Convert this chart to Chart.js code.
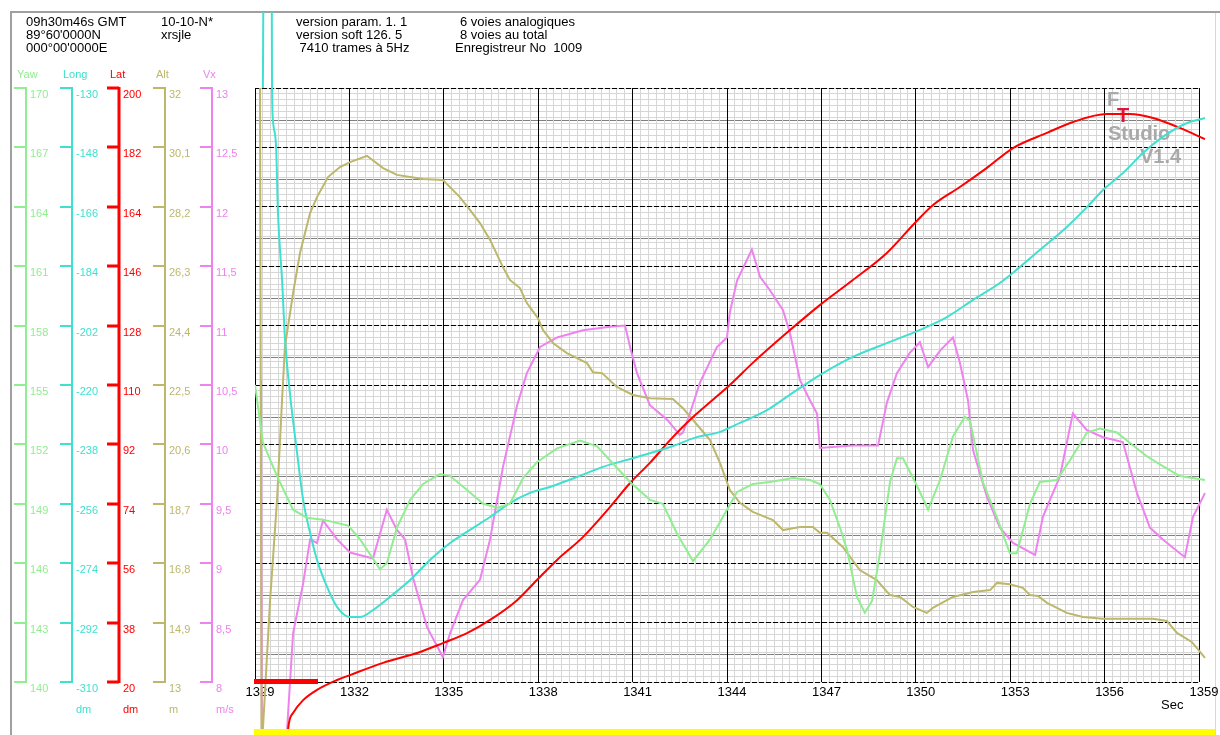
<!DOCTYPE html>
<html>
<head>
<meta charset="utf-8">
<script src="https://cdn.jsdelivr.net/npm/chart.js@4.4.1/dist/chart.umd.min.js"></script>
<style>
  body { margin: 0; background: #fff; }
  canvas { display: block; }
</style>
</head>
<body>
<canvas id="recChart" width="1220" height="735"></canvas>
<script>
// time axis (seconds)
const xLabels = [1329, 1332, 1335, 1338, 1341, 1344, 1347, 1350, 1353, 1356, 1359];

// Yaw (green)
const yawT = [1329.0, 1329.25, 1329.7, 1330.21, 1330.65, 1331.16, 1331.96, 1332.34, 1332.72, 1332.97, 1333.19, 1333.51, 1333.93, 1334.34, 1334.88, 1335.2, 1335.74, 1336.25, 1336.72, 1337.1, 1337.52, 1337.96, 1338.6, 1339.33, 1339.87, 1340.28, 1340.92, 1341.55, 1341.96, 1342.41, 1342.92, 1343.46, 1344.0, 1344.32, 1344.82, 1345.36, 1346.1, 1346.64, 1346.95, 1347.27, 1347.59, 1347.81, 1348.13, 1348.38, 1348.61, 1348.86, 1349.18, 1349.4, 1349.59, 1350.04, 1350.39, 1350.77, 1351.18, 1351.56, 1351.72, 1352.13, 1352.58, 1352.99, 1353.21, 1353.63, 1353.94, 1354.48, 1354.9, 1355.44, 1355.85, 1356.39, 1356.71, 1357.34, 1357.85, 1358.39, 1359.19];
const yawV = [155.0, 152.1, 150.4, 148.7, 148.3, 148.2, 147.9, 147.2, 146.3, 145.7, 146.0, 147.8, 149.2, 150.0, 150.5, 150.4, 149.7, 149.0, 148.8, 149.0, 150.3, 151.1, 151.8, 152.2, 151.9, 151.2, 150.1, 149.2, 149.0, 147.5, 146.1, 147.2, 148.7, 149.6, 150.0, 150.1, 150.3, 150.2, 150.0, 149.2, 147.8, 146.7, 144.3, 143.5, 144.1, 146.5, 150.1, 151.3, 151.3, 149.9, 148.7, 150.2, 152.4, 153.4, 153.2, 150.1, 148.3, 146.5, 146.5, 149.0, 150.1, 150.2, 151.2, 152.6, 152.8, 152.6, 152.2, 151.4, 150.9, 150.4, 150.2];

// Long (turquoise, dm)
const longT = [1329.25, 1329.3, 1329.52, 1329.54, 1329.57, 1329.67, 1329.73, 1329.86, 1329.95, 1330.11, 1330.33, 1330.53, 1330.75, 1330.97, 1331.29, 1331.61, 1332.02, 1332.34, 1332.75, 1333.29, 1333.93, 1334.56, 1335.2, 1335.83, 1336.47, 1337.1, 1337.74, 1338.37, 1339.23, 1340.06, 1341.14, 1342.19, 1343.04, 1343.78, 1344.41, 1345.27, 1345.9, 1346.95, 1348.0, 1349.08, 1350.13, 1350.99, 1351.82, 1352.67, 1353.31, 1353.94, 1354.8, 1355.44, 1355.95, 1356.58, 1357.22, 1357.85, 1358.62, 1359.19];
const longV = [-130, -58, -58, -127.6, -139.7, -147.9, -167.9, -188.2, -205.5, -222.5, -240.0, -254.8, -264.8, -273.0, -281.2, -287.3, -290.3, -290.3, -288.2, -284.2, -279.1, -273.0, -267.9, -263.9, -260.0, -255.8, -252.7, -250.9, -247.9, -244.8, -241.8, -238.8, -235.8, -234.2, -231.5, -227.6, -223.6, -217.0, -211.5, -207.3, -203.3, -199.4, -194.2, -189.1, -184.2, -179.1, -172.1, -166.1, -160.9, -155.8, -149.7, -144.8, -140.6, -139.1];

// Lat (red, dm)
const latT = [1330.0, 1330.05, 1330.21, 1330.53, 1330.97, 1331.61, 1332.02, 1333.07, 1334.15, 1334.97, 1335.74, 1336.47, 1337.33, 1337.96, 1338.6, 1339.42, 1340.28, 1340.92, 1341.55, 1342.19, 1342.82, 1343.55, 1344.09, 1344.82, 1345.9, 1346.95, 1348.0, 1349.08, 1349.97, 1350.54, 1351.4, 1352.26, 1353.09, 1354.17, 1355.0, 1356.07, 1356.8, 1357.54, 1358.39, 1359.19];
const latV = [-5, 5.5, 10.6, 14.5, 17.6, 20.6, 22.1, 25.8, 28.8, 31.8, 34.8, 38.8, 44.8, 50.9, 57.0, 63.9, 73.0, 80.3, 86.4, 93.3, 99.4, 105.5, 110.0, 116.7, 125.8, 134.2, 141.8, 150.0, 159.1, 164.5, 170.0, 175.8, 181.8, 186.4, 189.7, 192.1, 192.1, 190.9, 187.9, 184.5];

// Alt (khaki, m)
const altT = [1329.16, 1329.21, 1329.25, 1329.48, 1329.7, 1329.86, 1329.95, 1330.21, 1330.43, 1330.75, 1330.97, 1331.32, 1331.7, 1332.02, 1332.56, 1332.65, 1333.07, 1333.51, 1333.93, 1334.34, 1334.97, 1335.51, 1335.83, 1336.15, 1336.47, 1336.88, 1337.1, 1337.42, 1337.64, 1337.99, 1338.15, 1338.47, 1338.91, 1339.55, 1339.74, 1340.03, 1340.5, 1341.01, 1341.55, 1342.28, 1342.6, 1342.92, 1343.46, 1343.78, 1344.09, 1344.41, 1344.82, 1345.46, 1345.78, 1346.32, 1346.73, 1346.95, 1347.18, 1347.68, 1348.22, 1348.76, 1349.18, 1349.5, 1349.91, 1350.35, 1350.54, 1351.18, 1351.82, 1352.36, 1352.58, 1352.99, 1353.4, 1353.63, 1353.88, 1354.17, 1354.8, 1355.31, 1355.95, 1357.54, 1357.98, 1358.3, 1358.77, 1359.19];
const altV = [32.0, 10.5, 11.46, 15.62, 18.82, 22.02, 23.72, 25.44, 26.72, 28.0, 28.51, 29.15, 29.47, 29.63, 29.83, 29.76, 29.44, 29.22, 29.15, 29.09, 29.06, 28.51, 28.1, 27.68, 27.14, 26.27, 25.86, 25.6, 25.12, 24.64, 24.26, 23.84, 23.52, 23.2, 22.91, 22.88, 22.44, 22.18, 22.08, 22.05, 21.76, 21.38, 20.74, 20.0, 19.14, 18.73, 18.44, 18.18, 17.86, 17.96, 17.96, 17.77, 17.77, 17.32, 16.58, 16.26, 15.78, 15.72, 15.4, 15.21, 15.37, 15.72, 15.88, 15.94, 16.17, 16.13, 16.01, 15.78, 15.75, 15.53, 15.21, 15.08, 15.02, 15.02, 14.95, 14.57, 14.28, 13.77];

// Vx (violet, m/s)
const vxT = [1329.19, 1329.22, 1329.98, 1330.02, 1330.21, 1330.53, 1330.75, 1330.97, 1331.16, 1331.61, 1332.02, 1332.75, 1333.19, 1333.51, 1333.77, 1334.02, 1334.47, 1334.97, 1335.2, 1335.61, 1336.15, 1336.47, 1336.88, 1337.33, 1337.64, 1338.06, 1338.6, 1339.42, 1340.28, 1340.76, 1340.92, 1341.14, 1341.55, 1342.09, 1342.5, 1342.6, 1342.82, 1343.14, 1343.68, 1344.0, 1344.09, 1344.32, 1344.79, 1345.05, 1345.36, 1345.78, 1346.0, 1346.32, 1346.64, 1346.86, 1346.95, 1348.0, 1348.8, 1349.08, 1349.4, 1349.81, 1350.13, 1350.39, 1350.77, 1351.18, 1351.4, 1351.66, 1351.82, 1352.26, 1352.67, 1353.09, 1353.79, 1354.04, 1354.26, 1354.58, 1354.99, 1355.44, 1355.95, 1356.58, 1357.03, 1357.44, 1357.85, 1358.55, 1358.81, 1359.19];
const vxV = [10.54, 7.34, 7.34, 7.6, 8.41, 8.83, 9.2, 9.17, 9.36, 9.2, 9.09, 9.04, 9.45, 9.28, 9.2, 8.88, 8.46, 8.21, 8.41, 8.69, 8.86, 9.2, 9.81, 10.33, 10.6, 10.82, 10.9, 10.96, 10.99, 11.0, 10.82, 10.6, 10.33, 10.21, 10.08, 10.1, 10.26, 10.52, 10.82, 10.9, 11.11, 11.38, 11.64, 11.41, 11.3, 11.13, 10.94, 10.54, 10.37, 10.26, 9.97, 9.99, 9.99, 10.35, 10.6, 10.77, 10.86, 10.65, 10.79, 10.9, 10.69, 10.37, 9.95, 9.56, 9.3, 9.17, 9.07, 9.39, 9.53, 9.73, 10.26, 10.12, 10.06, 10.02, 9.59, 9.3, 9.2, 9.05, 9.39, 9.59];

// tick labels of the five left scales, top to bottom
const yawTicks = [170, 167, 164, 161, 158, 155, 152, 149, 146, 143, 140];
const longTicks = [-130, -148, -166, -184, -202, -220, -238, -256, -274, -292, -310];
const latTicks = [200, 182, 164, 146, 128, 110, 92, 74, 56, 38, 20];
const altTicks = [32, 30.1, 28.2, 26.3, 24.4, 22.5, 20.6, 18.7, 16.8, 14.9, 13];
const vxTicks = [13, 12.5, 12, 11.5, 11, 10.5, 10, 9.5, 9, 8.5, 8];

const headerLines = [
  ['09h30m46s GMT', 26, 22], ['89°60\'0000N', 26, 35], ['000°00\'0000E', 26, 48],
  ['10-10-N*', 161, 22], ['xrsjle', 161, 35],
  ['version param. 1. 1', 296, 22], ['version soft 126. 5', 296, 35], [' 7410 trames à 5Hz', 296, 48],
  ['6 voies analogiques', 460, 22], ['8 voies au total', 460, 35], ['Enregistreur No  1009', 455, 48]
];

const axisDefs = [
  { id: 'yYaw', name: 'Yaw', unit: '', color: '#90ee90', ticks: yawTicks, x: 26, w: 2 },
  { id: 'yLong', name: 'Long', unit: 'dm', color: '#40e0d0', ticks: longTicks, x: 72, w: 2 },
  { id: 'yLat', name: 'Lat', unit: 'dm', color: '#ff0000', ticks: latTicks, x: 119, w: 3 },
  { id: 'yAlt', name: 'Alt', unit: 'm', color: '#bdb76b', ticks: altTicks, x: 165, w: 2 },
  { id: 'yVx', name: 'Vx', unit: 'm/s', color: '#ee82ee', ticks: vxTicks, x: 212, w: 2 }
];

const FONT = "'Liberation Sans', Arial, sans-serif";
const fmt = (v) => String(v).replace('.', ',');
const zip = (t, v) => t.map((x, i) => ({ x: x, y: v[i] }));

// everything the recorder prints around the plot
const recorderDecor = {
  id: 'recorderDecor',
  beforeDraw(chart) {
    const ctx = chart.ctx;
    ctx.save();
    ctx.fillStyle = '#fff';
    ctx.fillRect(0, 0, chart.width, chart.height);
    ctx.strokeStyle = '#a0a0a0';
    ctx.lineWidth = 2;
    ctx.beginPath();
    ctx.moveTo(11, 735);
    ctx.lineTo(11, 12);
    ctx.lineTo(1220, 12);
    ctx.stroke();
    ctx.strokeStyle = '#d8d8d8';
    ctx.lineWidth = 1;
    ctx.beginPath();
    ctx.moveTo(1215.5, 13);
    ctx.lineTo(1215.5, 735);
    ctx.stroke();

    ctx.fillStyle = '#000';
    ctx.font = '13px ' + FONT;
    ctx.textBaseline = 'middle';
    headerLines.forEach(([txt, x, y]) => ctx.fillText(txt, x, y));
    ctx.restore();
  },
  beforeDatasetsDraw(chart) {
    // watermark
    const ctx = chart.ctx;
    ctx.save();
    ctx.textBaseline = 'middle';
    ctx.font = 'bold 20px ' + FONT;
    ctx.fillStyle = '#a9a9a9';
    ctx.fillText('F', 1107, 100);
    ctx.fillText('Studio', 1108, 134);
    ctx.fillText('V1.4', 1140, 157);
    ctx.fillStyle = '#dc143c';
    ctx.fillText('T', 1117, 116);
    ctx.restore();
  },
  afterDatasetsDraw(chart) {
    const ctx = chart.ctx;
    const area = chart.chartArea;
    ctx.save();
    ctx.fillStyle = '#ff0000';
    ctx.fillRect(area.left - 1, area.bottom - 3, 64, 5);
    ctx.fillStyle = '#ffff00';
    ctx.fillRect(area.left - 1, 729, 1216 - area.left, 6);
    ctx.restore();
  },
  afterDraw(chart) {
    const ctx = chart.ctx;
    ctx.save();
    ctx.font = '11px ' + FONT;
    ctx.textBaseline = 'middle';
    ctx.textAlign = 'left';
    axisDefs.forEach((a) => {
      const sc = chart.scales[a.id];
      const ys = a.ticks.map((v) => Math.round(sc.getPixelForValue(v)));
      ctx.strokeStyle = a.color;
      ctx.fillStyle = a.color;
      ctx.lineWidth = a.w;
      ctx.beginPath();
      ctx.moveTo(a.x, ys[0] - 1);
      ctx.lineTo(a.x, ys[ys.length - 1] + 1);
      ys.forEach((y) => {
        ctx.moveTo(a.x - 12, y);
        ctx.lineTo(a.x, y);
      });
      ctx.stroke();
      a.ticks.forEach((v, i) => ctx.fillText(fmt(v), a.x + 4, ys[i] + 7));
      ctx.fillText(a.name, a.x - 9, 75);
      if (a.unit) ctx.fillText(a.unit, a.x + 4, 710);
    });
    ctx.fillStyle = '#000';
    ctx.font = '13px ' + FONT;
    ctx.fillText('Sec', 1161, 705);
    ctx.restore();
  }
};

const noPad = (s) => { s.paddingLeft = 0; s.paddingRight = 0; };
const valueAxis = (ticks) => ({
  type: 'linear', display: false, position: 'left',
  min: ticks[ticks.length - 1], max: ticks[0]
});

const lineSet = (label, t, v, color, axis, smooth) => ({
  label: label,
  data: zip(t, v),
  yAxisID: axis,
  borderColor: color,
  borderWidth: 2,
  pointRadius: 0,
  fill: false,
  tension: 0,
  cubicInterpolationMode: smooth ? 'monotone' : 'default',
  clip: { left: 0, top: 76, right: 16, bottom: 53 }
});

new Chart(document.getElementById('recChart'), {
  type: 'line',
  data: {
    datasets: [
      lineSet('Yaw', yawT, yawV, '#90ee90', 'yYaw', false),
      lineSet('Long', longT, longV, '#40e0d0', 'yLong', true),
      lineSet('Lat', latT, latV, '#ff0000', 'yLat', true),
      lineSet('Alt', altT, altV, '#bdb76b', 'yAlt', false),
      lineSet('Vx', vxT, vxV, '#ee82ee', 'yVx', false)
    ]
  },
  options: {
    responsive: false,
    animation: false,
    devicePixelRatio: 1,
    events: [],
    layout: { padding: { left: 255, top: 88, right: 21, bottom: 0 } },
    plugins: { legend: { display: false }, tooltip: { enabled: false }, title: { display: false } },
    scales: {
      gMinor: {
        type: 'linear', position: 'left', min: 0, max: 100,
        ticks: { display: false, stepSize: 1 },
        border: { display: false },
        grid: { color: '#d6d6d6', drawTicks: false },
        afterFit: (s) => { s.width = 0; }
      },
      gMid: {
        type: 'linear', position: 'left', min: 0, max: 100,
        ticks: { display: false },
        border: { display: false },
        grid: { color: '#808080', drawTicks: false },
        afterBuildTicks: (s) => { s.ticks = [4.6, 14.6, 24.6, 34.6, 44.6, 54.6, 64.6, 74.6, 84.6, 94.6].map((v) => ({ value: v })); },
        afterFit: (s) => { s.width = 0; }
      },
      x: {
        type: 'linear', position: 'bottom', min: 1329, max: 1359,
        border: { display: false },
        grid: {
          drawTicks: false,
          color: (c) => (c.tick && xLabels.includes(c.tick.value)) ? '#000000' : '#d6d6d6'
        },
        ticks: {
          stepSize: 0.25, autoSkip: false, maxRotation: 0, padding: 3, labelOffset: 5,
          color: '#000', font: { family: FONT, size: 13 },
          callback: (v) => xLabels.includes(v) ? String(v) : ''
        },
        afterFit: (s) => { s.height = 53; noPad(s); }
      },
      gMajor: {
        type: 'linear', position: 'left', min: 0, max: 100,
        ticks: { display: false, stepSize: 10 },
        border: { display: false, dash: [5, 2] },
        grid: { color: '#000000', drawTicks: false },
        afterFit: (s) => { s.width = 0; }
      },
      yYaw: valueAxis(yawTicks),
      yLong: valueAxis(longTicks),
      yLat: valueAxis(latTicks),
      yAlt: valueAxis(altTicks),
      yVx: valueAxis(vxTicks)
    }
  },
  plugins: [recorderDecor]
});
</script>
</body>
</html>
